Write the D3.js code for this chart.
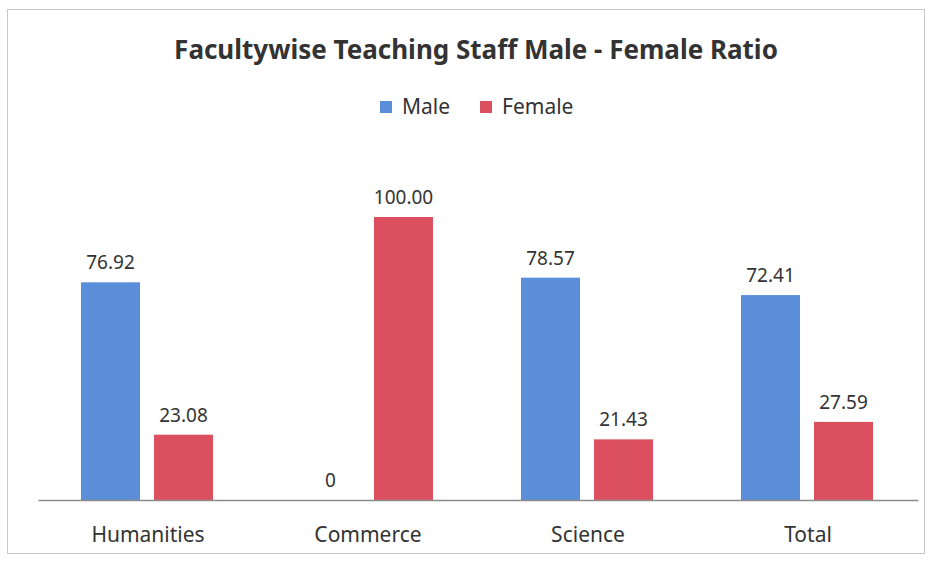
<!DOCTYPE html>
<html>
<head>
<meta charset="utf-8">
<script src="https://cdn.jsdelivr.net/npm/d3@7"></script>
<style>
  body { margin: 0; background: #fff; }
  svg { display: block; }
  text { font-family: "Noto Sans", "Open Sans", sans-serif; fill: #333; }
</style>
</head>
<body>
<svg class="chart"></svg>
<script>
// data
var categories = ["Humanities", "Commerce", "Science", "Total"];
var seriesNames = ["Male", "Female"];
var maleValues = [76.92, 0, 78.57, 72.41];
var femaleValues = [23.08, 100.00, 21.43, 27.59];
var maleLabels = ["76.92", "0", "78.57", "72.41"];
var femaleLabels = ["23.08", "100.00", "21.43", "27.59"];

var colors = { Male: "#5b8ed9", Female: "#dc4f5f" };

var width = 931, height = 561;
var margin = { top: 217, right: 13, bottom: 61, left: 38 };

var svg = d3.select("svg.chart")
    .attr("width", width)
    .attr("height", height);

// outer frame
svg.append("rect")
    .attr("x", 7.5).attr("y", 9.5)
    .attr("width", 917).attr("height", 544)
    .attr("fill", "none")
    .attr("stroke", "#c8c8c8")
    .attr("stroke-width", 1);

var rows = categories.map(function(c, i) {
    return { cat: c, values: [
        { name: "Male", value: maleValues[i], label: maleLabels[i] },
        { name: "Female", value: femaleValues[i], label: femaleLabels[i] }
    ]};
});

var x0 = d3.scaleBand()
    .domain(categories)
    .range([margin.left, width - margin.right])
    .paddingInner(0)
    .paddingOuter(0);

var x1 = d3.scaleBand()
    .domain(seriesNames)
    .range([43, x0.bandwidth() - 45])
    .paddingInner(14 / 73);

var y = d3.scaleLinear()
    .domain([0, 100])
    .range([height - margin.bottom, margin.top]);

var groups = svg.selectAll("g.cat")
    .data(rows)
    .enter().append("g")
    .attr("class", "cat")
    .attr("transform", function(d) { return "translate(" + x0(d.cat) + ",0)"; });

groups.selectAll("rect")
    .data(function(d) { return d.values; })
    .enter().append("rect")
    .attr("x", function(d) { return x1(d.name); })
    .attr("y", function(d) { return y(d.value); })
    .attr("width", x1.bandwidth())
    .attr("height", function(d) { return y(0) - y(d.value); })
    .attr("fill", function(d) { return colors[d.name]; });

groups.selectAll("text.val")
    .data(function(d) { return d.values; })
    .enter().append("text")
    .attr("class", "val")
    .attr("x", function(d) { return x1(d.name) + x1.bandwidth() / 2; })
    .attr("y", function(d) { return y(d.value) - 13; })
    .attr("text-anchor", "middle")
    .style("font-size", "19px")
    .text(function(d) { return d.label; });

// x axis
var xAxis = d3.axisBottom(x0).tickSize(0).tickPadding(27);
var axisG = svg.append("g")
    .attr("transform", "translate(0," + y(0) + ")")
    .call(xAxis);
axisG.select(".domain").attr("stroke", "#8c8c8c").attr("stroke-width", 1.5);
axisG.selectAll("text")
    .style("font-size", "21px")
    .attr("fill", "#333");

// title
svg.append("text")
    .attr("x", 476)
    .attr("y", 59)
    .attr("text-anchor", "middle")
    .style("font-size", "26px")
    .style("font-weight", "bold")
    .text("Facultywise Teaching Staff Male - Female Ratio");

// legend
var legendX = [380, 480];
var legend = svg.selectAll("g.legend")
    .data(seriesNames)
    .enter().append("g")
    .attr("class", "legend")
    .attr("transform", function(d, i) { return "translate(" + legendX[i] + ",101)"; });

legend.append("rect")
    .attr("width", 12).attr("height", 12)
    .attr("fill", function(d) { return colors[d]; });

legend.append("text")
    .attr("x", 22)
    .attr("y", 13)
    .style("font-size", "21px")
    .text(function(d) { return d; });
</script>
</body>
</html>
